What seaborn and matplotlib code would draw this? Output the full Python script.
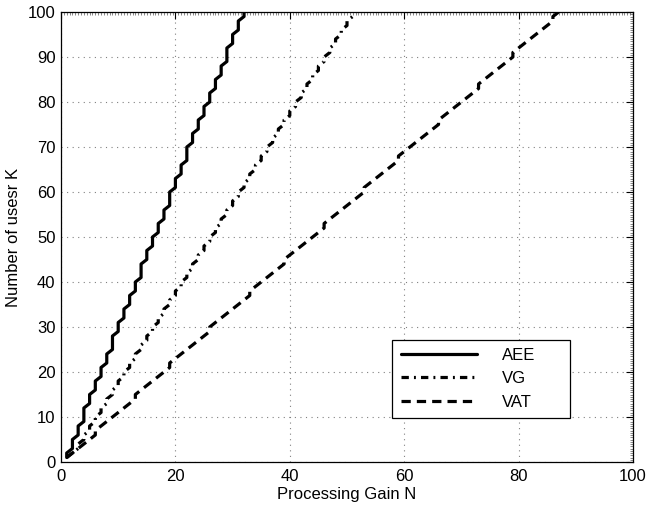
import matplotlib
matplotlib.use("Agg")
import matplotlib.pyplot as plt
import pandas as pd
import seaborn as sns
from matplotlib.ticker import MultipleLocator

# ---- data ----
methods = ["AEE", "VG", "VAT"]
# largest number of users K reached at processing gain N = 1, 2, 3, ...
aee_kmax = [2, 5, 8, 12, 15, 18, 21, 24, 28, 31, 34, 37, 40, 44, 47, 50,
            53, 56, 60, 63, 66, 70, 73, 76, 79, 82, 85, 88, 92, 95, 98, 100]
vg_kmax = [1, 2, 4, 6, 8, 10, 12, 14, 16, 18, 20, 22, 24, 26, 28, 30, 32,
           34, 36, 38, 40, 42, 44, 46, 48, 50, 52, 54, 56, 58, 60, 62, 64,
           66, 68, 70, 72, 74, 76, 78, 80, 82, 84, 86, 88, 90, 92, 94, 96,
           98, 100]
vat_kmax = [1, 2, 3, 4, 5, 7, 8, 9, 10, 11, 12, 13, 15, 16, 17, 18, 19, 20,
            22, 23, 24, 25, 26, 27, 28, 30, 31, 32, 33, 34, 35, 36, 38, 39,
            40, 41, 42, 43, 45, 46, 47, 48, 49, 50, 51, 53, 54, 55, 56, 57,
            58, 59, 61, 62, 63, 64, 65, 66, 68, 69, 70, 71, 72, 73, 74, 76,
            77, 78, 79, 80, 81, 82, 84, 85, 86, 87, 88, 89, 91, 92, 93, 94,
            95, 96, 97, 99, 100]
x_ticks = [0, 20, 40, 60, 80, 100]
y_ticks = [0, 10, 20, 30, 40, 50, 60, 70, 80, 90, 100]
x_label = "Processing Gain N"
y_label = "Number of usesr K"

# ---- build long table: one row per user count K with the N it needs ----
rows = []
for name, kmax in zip(methods, [aee_kmax, vg_kmax, vat_kmax]):
    prev = 0
    for n, km in enumerate(kmax, start=1):
        for k in range(prev + 1, km + 1):
            rows.append((name, n, k))
        prev = km
df = pd.DataFrame(rows, columns=["Method", "N", "K"])

sns.set_style("white")
plt.rcParams["font.family"] = ["Liberation Sans", "DejaVu Sans"]
plt.rcParams["text.color"] = "black"
plt.rcParams["axes.labelcolor"] = "black"
plt.rcParams["xtick.color"] = "black"
plt.rcParams["ytick.color"] = "black"

fig = plt.figure(figsize=(6.5, 5.12), dpi=100)
ax = fig.add_axes([61 / 650, 50 / 512, 572 / 650, 450 / 512])

sns.lineplot(
    data=df, x="N", y="K", hue="Method", style="Method",
    hue_order=methods, style_order=methods,
    palette={m: "black" for m in methods},
    dashes={"AEE": "", "VG": (2.3, 1.6, 0.6, 1.6), "VAT": (2.9, 1.9)},
    estimator=None, sort=False, linewidth=2.3, ax=ax,
)

ax.set_xlim(0, 100)
ax.set_ylim(0, 100)
ax.set_xticks(x_ticks)
ax.set_yticks(y_ticks)
ax.xaxis.set_minor_locator(MultipleLocator(0.5))
ax.yaxis.set_minor_locator(MultipleLocator(0.5))
ax.grid(True, which="major", linestyle=(0, (1, 4)), color="0.5", linewidth=0.8)
for sp in ax.spines.values():
    sp.set_visible(True)
    sp.set_color("black")
    sp.set_linewidth(0.9)
ax.tick_params(which="major", direction="in", top=True, right=True,
               length=5, width=0.8, labelsize=12, color="black",
               labelcolor="black")
ax.tick_params(axis="x", which="major", pad=5)
ax.tick_params(axis="y", which="major", pad=4)
ax.tick_params(which="minor", direction="in", top=True, right=True,
               length=2, width=0.5, color="0.35")

ax.set_xlabel(x_label, fontsize=12, labelpad=2, color="black")
ax.set_ylabel(y_label, fontsize=12, labelpad=5, color="black")

old = ax.get_legend()
handles = old.legend_handles
labels = [t.get_text() for t in old.get_texts()]
old.remove()
leg = ax.legend(handles, labels, loc="lower left",
                bbox_to_anchor=(0.579, 0.098, 0.311, 0.18), mode="expand",
                frameon=True, fancybox=False, edgecolor="black", framealpha=1,
                fontsize=12, handlelength=4.6, handletextpad=1.5,
                labelspacing=0.5, borderpad=0.5, borderaxespad=0,
                labelcolor="black")
leg.get_frame().set_linewidth(0.9)

fig.savefig("out.png", dpi=100)
